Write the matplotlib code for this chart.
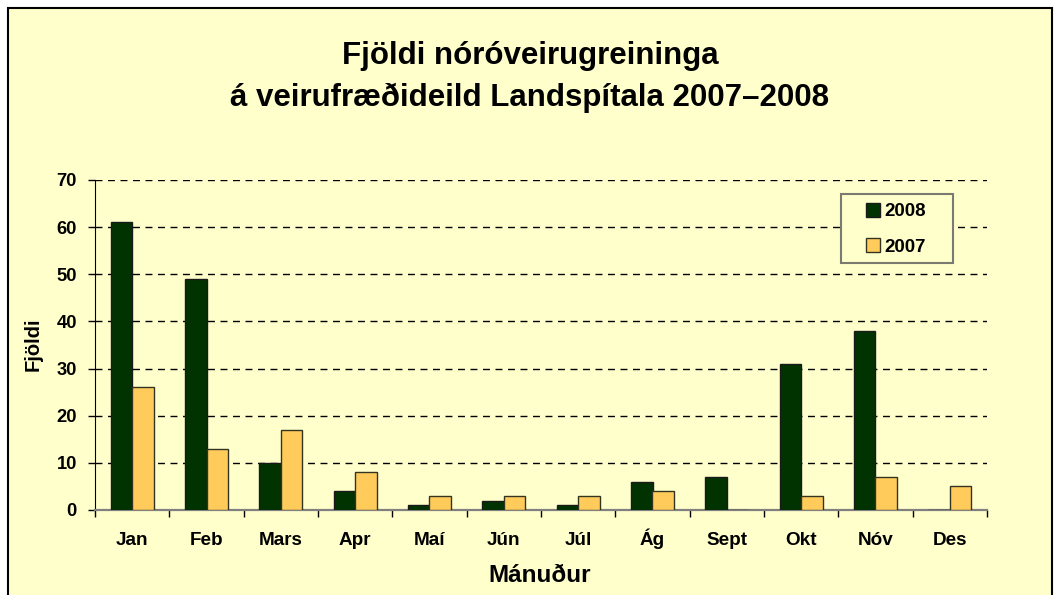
import matplotlib
matplotlib.use("Agg")
import matplotlib.pyplot as plt
import numpy as np
from matplotlib.patches import Rectangle

months = ["Jan", "Feb", "Mars", "Apr", "Maí", "Jún", "Júl", "Ág", "Sept", "Okt", "Nóv", "Des"]
vals_2008 = [61, 49, 10, 4, 1, 2, 1, 6, 7, 31, 38, 0]
vals_2007 = [26, 13, 17, 8, 3, 3, 3, 4, 0, 3, 7, 5]
yticks = [0, 10, 20, 30, 40, 50, 60, 70]

plt.rcParams['font.family'] = ['Liberation Sans', 'DejaVu Sans']
plt.rcParams['font.weight'] = 'bold'

W, H = 1059, 595
bg = '#FFFFCC'
green = '#003300'
orange = '#FFCC5C'


def fx(px):
    return px / W


def fy(py):
    return 1 - py / H


fig = plt.figure(figsize=(W / 100, H / 100), dpi=100)
fig.patch.set_facecolor('white')
fig.patches.append(Rectangle((fx(8), -0.05), fx(1052) - fx(8), fy(8) + 0.05,
                             transform=fig.transFigure, facecolor=bg,
                             edgecolor='black', linewidth=1.5, zorder=-10))

ax = fig.add_axes([fx(95), fy(510), fx(987) - fx(95), fy(180) - fy(510)])
ax.patch.set_alpha(0)

x = np.arange(len(months))
bw = 0.29
ax.bar(x - bw / 2, vals_2008, bw, color=green, edgecolor='#1a1a1a', linewidth=1.0, label='2008', zorder=3)
ax.bar(x + bw / 2, vals_2007, bw, color=orange, edgecolor='#333322', linewidth=1.0, label='2007', zorder=3)

ax.set_xlim(-0.5, len(months) - 0.5)
ax.set_ylim(0, 70)
ax.set_yticks(yticks)
ax.set_yticklabels([str(v) for v in yticks], fontsize=13.2, fontweight='bold')
ax.set_xticks(x)
ax.set_xticklabels(months, fontsize=13.6, fontweight='bold')
for t in ax.get_xticklabels():
    t.set_verticalalignment('baseline')
ax.tick_params(axis='x', length=0, pad=25.2)
ax.tick_params(axis='y', length=7 * 0.72, width=1, direction='out', pad=8)
ax.set_xticks(np.arange(-0.5, len(months) + 0.5, 1), minor=True)
ax.tick_params(axis='x', which='minor', length=7 * 0.72, width=1, direction='out', color='black')

for v in yticks[1:]:
    ax.axhline(v, color='black', linestyle=(0, (5, 4)), linewidth=1.0, zorder=1)

for s in ['top', 'right']:
    ax.spines[s].set_visible(False)
ax.spines['left'].set_color('black')
ax.spines['bottom'].set_color('#808080')
ax.spines['bottom'].set_linewidth(1.6)

fig.text(fx(33), fy(344), 'Fjöldi', rotation=90, ha='center', va='center',
         fontsize=14.5, fontweight='bold')
fig.text(fx(540), fy(582), 'Mánuður', ha='center', va='baseline',
         fontsize=17.5, fontweight='bold')

# legend frame + entries
ax.add_patch(Rectangle((fx(841), fy(263)), fx(953) - fx(841), fy(194) - fy(263),
                       transform=fig.transFigure, facecolor=bg,
                       edgecolor='#7a7a70', linewidth=1.5, zorder=5, clip_on=False))
leg = ax.legend(loc='upper left', bbox_to_anchor=(fx(866), fy(203)), bbox_transform=fig.transFigure,
                fontsize=13.5, frameon=False, handlelength=0.75, handleheight=0.75,
                handletextpad=0.25, labelspacing=0.95, borderpad=0, borderaxespad=0)
leg.set_zorder(6)
for t in leg.get_texts():
    t.set_fontweight('bold')

fig.text(fx(530), fy(64), 'Fjöldi nóróveirugreininga', ha='center', va='baseline',
         fontsize=22.5, fontweight='bold')
fig.text(fx(530), fy(106), 'á veirufræðideild Landspítala 2007–2008', ha='center', va='baseline',
         fontsize=22.5, fontweight='bold')

fig.savefig('out.png', dpi=100, facecolor=fig.get_facecolor())
